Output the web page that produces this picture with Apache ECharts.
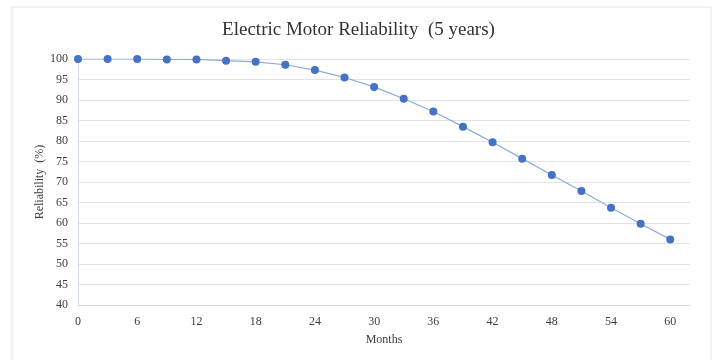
<!DOCTYPE html>
<html>
<head>
<meta charset="utf-8">
<script src="https://cdn.jsdelivr.net/npm/echarts@6/dist/echarts.min.js"></script>
<style>html,body{margin:0;padding:0;background:#fff}#c{width:717px;height:360px}</style>
</head>
<body>
<div id="c"></div>
<script>
const months = [0,3,6,9,12,15,18,21,24,27,30,33,36,39,42,45,48,51,54,57,60];
const reliability = [100,100,100,99.9,99.9,99.6,99.3,98.6,97.3,95.5,93.2,90.3,87.2,83.5,79.7,75.7,71.7,67.8,63.7,59.8,56.0];
const titleText = 'Electric Motor Reliability  (5 years)';
const xName = 'Months';
const yName = 'Reliability  (%)';

const chart = echarts.init(document.getElementById('c'), null, {renderer:'canvas'});
const font = '"Liberation Serif","Times New Roman",serif';
chart.setOption({
  animation:false,
  backgroundColor:'#fff',
  graphic:[{type:'rect',shape:{x:12,y:7,width:699,height:360},style:{fill:'none',stroke:'#dfe3ea',lineWidth:1},silent:true}],
  title:{text:titleText,left:'center',top:16,textStyle:{fontFamily:font,fontWeight:'normal',fontSize:19,color:'#333'}},
  grid:{left:78,right:27,top:59,bottom:55},
  xAxis:{type:'value',min:0,max:62,interval:6,name:xName,nameLocation:'middle',nameGap:29,
    nameTextStyle:{fontFamily:font,fontSize:12,color:'#404040'},
    axisLine:{show:true,lineStyle:{color:'#d6dce8'}},axisTick:{show:false},splitLine:{show:false},
    axisLabel:{fontFamily:font,fontSize:12,color:'#404040',margin:11,showMaxLabel:false}},
  yAxis:{type:'value',min:40,max:100,interval:5,name:yName,nameLocation:'middle',nameGap:32,nameMoveOverlap:false,
    nameTextStyle:{fontFamily:font,fontSize:12,color:'#404040'},
    axisLine:{show:true,lineStyle:{color:'#d6dce8'}},axisTick:{show:false},
    splitLine:{lineStyle:{color:'#e3e3e3'}},
    axisLabel:{fontFamily:font,fontSize:12,color:'#404040',margin:10}},
  series:[{type:'line',data:months.map((m,i)=>[m,reliability[i]]),symbol:'circle',symbolSize:8,
    lineStyle:{color:'#8eaadb',width:1.2},itemStyle:{color:'#4472c4'}}]
});
</script>
</body>
</html>
